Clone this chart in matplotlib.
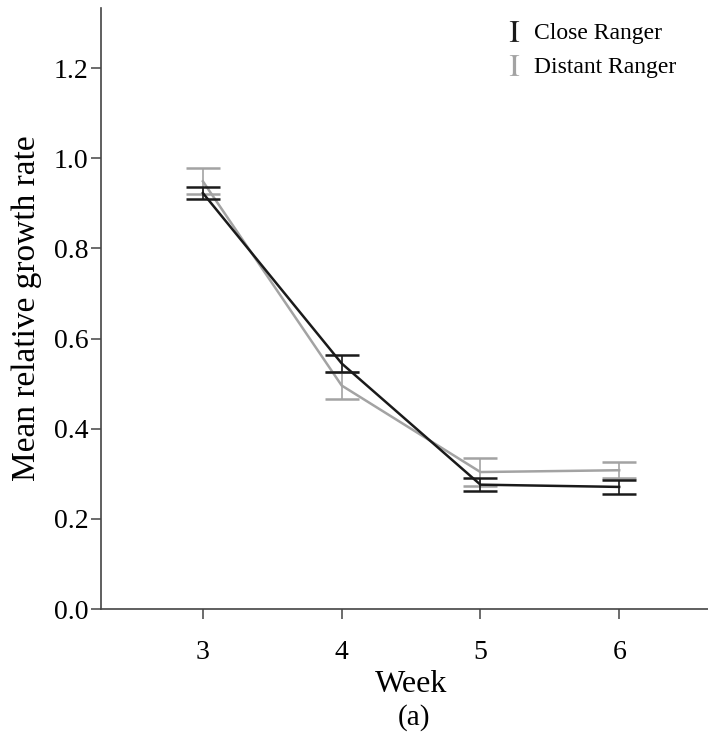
import numpy as np
import matplotlib.pyplot as plt
from matplotlib.lines import Line2D
from matplotlib.transforms import blended_transform_factory

plt.rcParams['font.family'] = ['Liberation Serif', 'DejaVu Serif']
plt.rcParams['mathtext.fontset'] = 'stix'

weeks = [3, 4, 5, 6]
close_mean = [0.923, 0.545, 0.276, 0.271]
close_err = [0.013, 0.019, 0.015, 0.016]
distant_mean = [0.949, 0.496, 0.304, 0.308]
distant_err = [0.029, 0.030, 0.031, 0.018]
series_names = ['Close Ranger', 'Distant Ranger']

black = '#1a1a1a'
grey = '#a3a3a3'

fig = plt.figure(figsize=(7.08, 7.51), dpi=100)
ax = fig.add_axes([0.1427, 0.189, 0.8573, 0.8])

ax.plot(weeks, distant_mean, color=grey, lw=1.8, zorder=2)
ax.plot(weeks, close_mean, color=black, lw=1.8, zorder=3)
ax.errorbar(weeks, close_mean, yerr=close_err, fmt='none', ecolor=black,
            elinewidth=1.2, capsize=12.5, capthick=1.8, zorder=3)
ax.errorbar(weeks, distant_mean, yerr=distant_err, fmt='none', ecolor=grey,
            elinewidth=1.2, capsize=12.5, capthick=1.8, zorder=2)

ax.set_xlim(2.266, 6.64)
ax.set_ylim(0, 1.333)
ax.set_xticks(weeks)
ax.set_yticks(np.arange(0, 1.21, 0.2))
ax.yaxis.set_major_formatter(plt.FormatStrFormatter('%.1f'))

for s in ['top', 'right']:
    ax.spines[s].set_visible(False)
for s in ['left', 'bottom']:
    ax.spines[s].set_color('#444444')
    ax.spines[s].set_linewidth(1.2)
ax.tick_params(axis='both', direction='out', length=7, width=1.1, color='#444444',
               labelsize=20)
ax.tick_params(axis='x', pad=15)
ax.tick_params(axis='y', pad=2)

ax.set_ylabel('Mean relative growth rate', fontsize=24)
ax.yaxis.set_label_coords(-0.097, 0.5)

# x title sits under the middle of the week range
ax.text(np.mean(weeks), 0.088, 'Week', ha='center', va='center', fontsize=23,
        transform=blended_transform_factory(ax.transData, fig.transFigure))

# error-bar style legend keys
handles = [Line2D([], [], linestyle='none', marker=r'$\mathrm{I}$', markersize=15,
                  color=c, markeredgewidth=0) for c in (black, grey)]
ax.legend(handles, series_names, loc='upper left', bbox_to_anchor=(0.697, 0.986),
          bbox_transform=fig.transFigure, frameon=False, fontsize=17,
          handlelength=0.7, handletextpad=0.5, labelspacing=0.55, borderpad=0)

fig.text(0.585, 0.044, '(a)', ha='center', va='center', fontsize=21)

fig.savefig('out.png', dpi=100)
